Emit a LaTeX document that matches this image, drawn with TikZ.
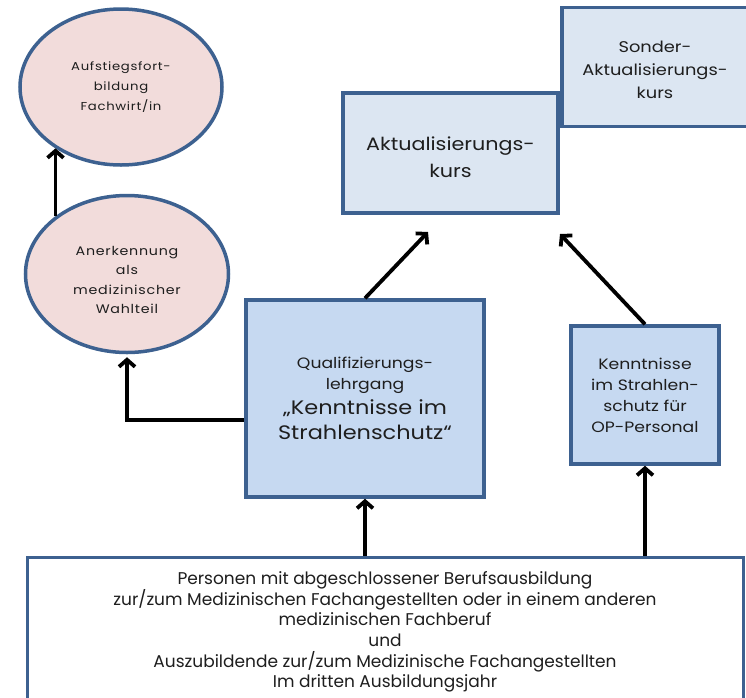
\documentclass[tikz,border=0pt]{standalone}
\usepackage{fontspec}
\setmainfont{Poppins}[FakeStretch=1.15]
\newfontfamily\spaced{Poppins}[FakeStretch=1.15, LetterSpace=6]
\newfontfamily\plainfont{Poppins}
\usetikzlibrary{arrows.meta,shapes.geometric}
\definecolor{bord}{HTML}{3D6190}
\definecolor{pinkfill}{HTML}{F2DCDB}
\definecolor{lightblue}{HTML}{DCE6F2}
\definecolor{midblue}{HTML}{C6D9F1}
\definecolor{txt}{HTML}{1E1E1E}
\tikzset{
  ell/.style={ellipse, draw=bord, fill=pinkfill, line width=3.5pt, inner sep=0pt, align=center, text=txt,
    font=\spaced\fontsize{11.5}{20}\selectfont},
  boxnode/.style={rectangle, draw=bord, line width=3.5pt, inner sep=0pt, align=center, text=txt},
  arr/.style={draw=black, line width=3.8pt, -{Straight Barb[length=7pt,width=16pt,line width=3.8pt]}}
}
\begin{document}
\begin{tikzpicture}[x=1pt,y=-1pt]
\clip (0,0) rectangle (746,697);
\fill[white] (0,0) rectangle (746,697);
% ellipses
\node[ell, minimum width=202pt, minimum height=156pt] (e1) at (121,87)
  {Aufstiegsfort-\\bildung\\Fachwirt/in};
\node[ell, minimum width=203pt, minimum height=157pt] (e2) at (127,274) {};
\node[text=txt, align=center, font=\spaced\fontsize{12.4}{19.3}\selectfont] (e2t) at (127,280)
  {Anerkennung\\als\\medizinischer\\Wahlteil};
% boxes
\node[boxnode, fill=lightblue, minimum width=186pt, minimum height=119pt] (s) at (655,67) {};
\node[text=txt, align=center, font=\fontsize{15.5}{23}\selectfont] (st) at (655,70)
  {Sonder-\\Aktualisierungs-\\kurs};
\node[boxnode, fill=lightblue, minimum width=215pt, minimum height=120pt] (a) at (450.5,153) {};
\node[text=txt, align=center, font=\fontsize{18}{27}\selectfont] (at) at (450.5,157)
  {Aktualisierungs-\\kurs};
\node[boxnode, fill=midblue, minimum width=238pt, minimum height=197pt,
  font=\fontsize{15}{21}\selectfont] (q) at (365,398.5)
  {Qualifizierungs-\\lehrgang\\[4pt]
   {\fontsize{19.5}{26}\selectfont „Kenntnisse im}\\[4pt]
   {\fontsize{19.5}{26}\selectfont Strahlenschutz“}};
\node[boxnode, fill=midblue, minimum width=148pt, minimum height=138pt,
  font=\fontsize{15}{21}\selectfont] (op) at (645,395)
  {Kenntnisse\\im Strahlen-\\schutz für\\OP-Personal};
\node[boxnode, draw=bord, fill=white, line width=3pt, minimum width=716pt, minimum height=150pt,
  font=\plainfont\fontsize{17}{20.7}\selectfont] (b) at (385,632)
  {Personen mit abgeschlossener Berufsausbildung\\
   zur/zum Medizinischen Fachangestellten oder in einem anderen\\
   medizinischen Fachberuf\\
   und\\
   Auszubildende zur/zum Medizinische Fachangestellten\\
   Im dritten Ausbildungsjahr};
% free ends
\coordinate (ta) at (428,232);
\coordinate (tb) at (560,234);
% connectors
\draw[arr] (e2.141) -- (e2.141 |- e1.223);
\draw[arr] ([yshift=-21.5pt]q.west) -| ([yshift=-3pt]e2.south);
\draw[arr] (q.north) -- (ta);
\draw[arr] (op.north) -- (tb);
\draw[arr] (b.north -| q.south) -- (q.south);
\draw[arr] (b.north -| op.south) -- (op.south);
\end{tikzpicture}
\end{document}
